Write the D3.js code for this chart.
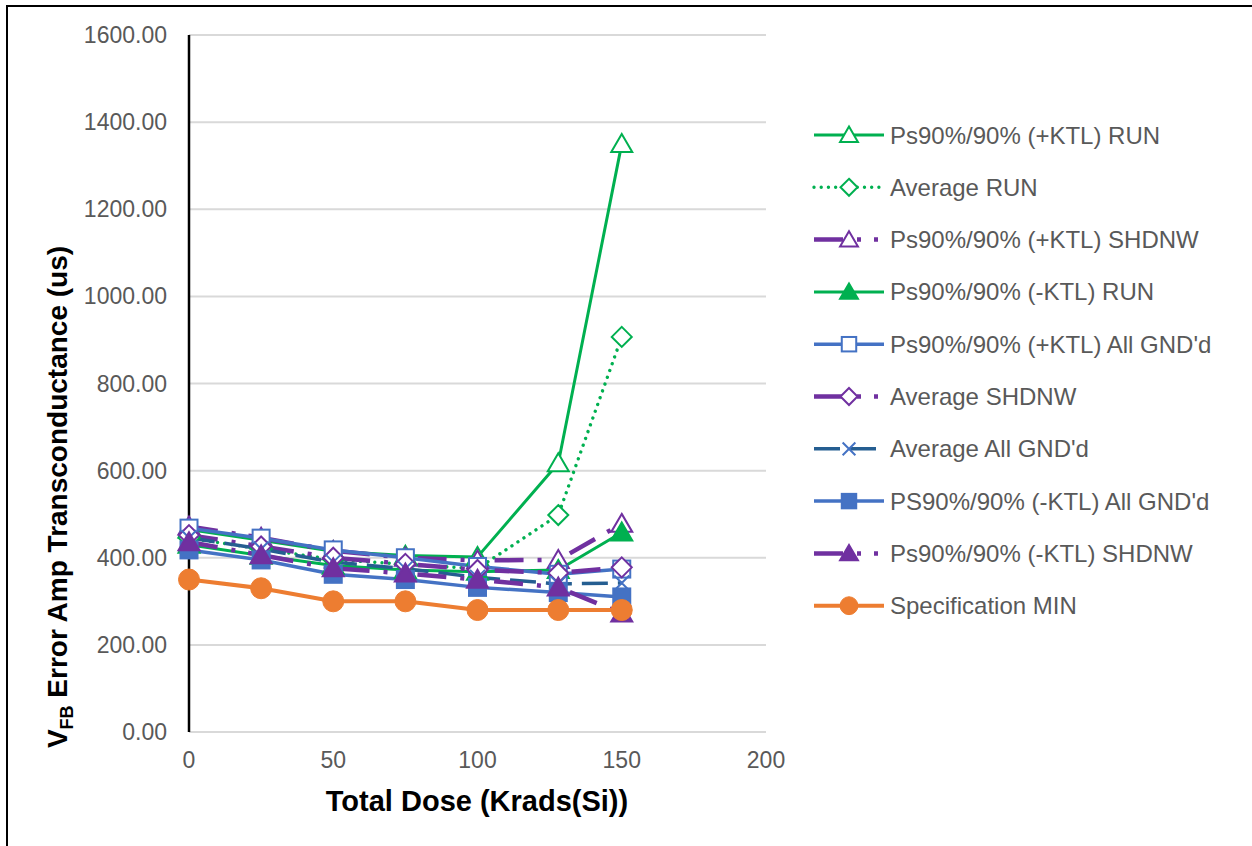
<!DOCTYPE html>
<html>
<head>
<meta charset="utf-8">
<script src="https://cdn.jsdelivr.net/npm/d3@7"></script>
<style>
  html, body { margin: 0; padding: 0; background: #fff; }
  svg { display: block; font-family: "Liberation Sans", Arial, sans-serif; }
</style>
</head>
<body>
<svg id="chart" width="1252" height="846"></svg>
<script>
// Dose levels (Krads(Si))
const doses = [0, 25, 50, 75, 100, 128, 150];

// Transconductance readings (us) per test condition
const psPlusRun     = [465, 440, 415, 405, 402, 617, 1350];
const avgRun        = [445, 420, 396, 385, 375, 498, 907];
const psPlusShdnw   = [472, 446, 416, 400, 394, 395, 478];
const psMinusRun    = [430, 405, 382, 372, 368, 372, 458];
const psPlusGnd     = [468, 445, 418, 400, 380, 362, 374];
const avgShdnw      = [452, 426, 400, 386, 372, 365, 378];
const avgGnd        = [446, 420, 390, 375, 355, 340, 342];
const psMinusGnd    = [418, 395, 362, 350, 332, 320, 310];
const psMinusShdnw  = [436, 406, 376, 364, 350, 332, 272];
const specMin       = [350, 330, 300, 300, 280, 280, 280];

const seriesNames = [
  "Ps90%/90% (+KTL) RUN",
  "Average RUN",
  "Ps90%/90% (+KTL) SHDNW",
  "Ps90%/90% (-KTL) RUN",
  "Ps90%/90% (+KTL) All GND'd",
  "Average SHDNW",
  "Average All GND'd",
  "PS90%/90% (-KTL) All GND'd",
  "Ps90%/90% (-KTL) SHDNW",
  "Specification MIN"
];
const seriesValues = [psPlusRun, avgRun, psPlusShdnw, psMinusRun, psPlusGnd,
                      avgShdnw, avgGnd, psMinusGnd, psMinusShdnw, specMin];

const yTicks = [0, 200, 400, 600, 800, 1000, 1200, 1400, 1600];
const xTicks = [0, 50, 100, 150, 200];

// Visual style per series
const GREEN = "#00B050", PURPLE = "#7030A0", BLUE = "#4472C4",
      NAVY = "#255E91", ORANGE = "#ED7D31";
const DASH_DOT_DOT = "29,14,4,13,4,13";
const styles = [
  { color: GREEN,  width: 3,   dash: null, cap: "butt", marker: "triangle", fill: false },
  { color: GREEN,  width: 3.4, dash: "0.01,7.2", cap: "round", marker: "diamond", fill: false },
  { color: PURPLE, width: 4.5, dash: DASH_DOT_DOT, cap: "butt", marker: "triangle", fill: false },
  { color: GREEN,  width: 3,   dash: null, cap: "butt", marker: "triangle", fill: true },
  { color: BLUE,   width: 3.5, dash: null, cap: "butt", marker: "square", fill: false },
  { color: PURPLE, width: 4.5, dash: DASH_DOT_DOT, cap: "butt", marker: "diamond", fill: false },
  { color: NAVY,   width: 3.5, dash: "26,10", cap: "butt", marker: "cross", fill: false, markerColor: BLUE },
  { color: BLUE,   width: 3.5, dash: null, cap: "butt", marker: "square", fill: true },
  { color: PURPLE, width: 4.5, dash: DASH_DOT_DOT, cap: "butt", marker: "triangle", fill: true },
  { color: ORANGE, width: 4,   dash: null, cap: "butt", marker: "circle", fill: true }
];

const svg = d3.select("#chart");

// Outer frame
svg.append("rect")
  .attr("x", 7).attr("y", 6).attr("width", 1300).attr("height", 900)
  .attr("fill", "#fff").attr("stroke", "#000").attr("stroke-width", 2);

const x = d3.scaleLinear().domain([0, 200]).range([189, 766]);
const y = d3.scaleLinear().domain([0, 1600]).range([732, 35]);

// Horizontal gridlines
svg.append("g").selectAll("line").data(yTicks).join("line")
  .attr("x1", x(0)).attr("x2", x(200))
  .attr("y1", d => y(d)).attr("y2", d => y(d))
  .attr("stroke", "#D9D9D9").attr("stroke-width", 2);

// Vertical axis line
svg.append("line")
  .attr("x1", x(0)).attr("x2", x(0)).attr("y1", y(1600)).attr("y2", y(0))
  .attr("stroke", "#000").attr("stroke-width", 2.5);

// Y tick labels
svg.append("g").selectAll("text").data(yTicks).join("text")
  .attr("x", 167).attr("y", d => y(d))
  .attr("text-anchor", "end").attr("dominant-baseline", "central")
  .attr("font-size", 23).attr("fill", "#595959")
  .text(d => d3.format(".2f")(d));

// X tick labels
svg.append("g").selectAll("text").data(xTicks).join("text")
  .attr("x", d => x(d)).attr("y", 760)
  .attr("text-anchor", "middle").attr("dominant-baseline", "central")
  .attr("font-size", 23).attr("fill", "#595959")
  .text(d => d);

// Axis titles
svg.append("text")
  .attr("x", 477).attr("y", 811)
  .attr("text-anchor", "middle")
  .attr("font-size", 29).attr("font-weight", "bold").attr("fill", "#000")
  .text("Total Dose (Krads(Si))");

const yTitle = svg.append("text")
  .attr("transform", "translate(67,497) rotate(-90)")
  .attr("text-anchor", "middle")
  .attr("font-size", 28).attr("font-weight", "bold").attr("fill", "#000");
yTitle.append("tspan").text("V");
yTitle.append("tspan").attr("font-size", 18).attr("dy", 6).text("FB");
yTitle.append("tspan").attr("dy", -6).text(" Error Amp Transconductance (us)");

// Marker shapes
function drawMarker(g, st, cx, cy, scale) {
  const s = scale || 1;
  const col = st.markerColor || st.color;
  const fill = st.fill ? col : "#fff";
  if (st.marker === "triangle") {
    const w = 10.5 * s, h = 18 * s;
    g.append("path")
      .attr("d", `M${cx},${cy - h * 0.55}L${cx + w},${cy + h * 0.45}L${cx - w},${cy + h * 0.45}Z`)
      .attr("fill", fill).attr("stroke", col).attr("stroke-width", 2);
  } else if (st.marker === "diamond") {
    const r = 10 * s;
    g.append("path")
      .attr("d", `M${cx},${cy - r}L${cx + r},${cy}L${cx},${cy + r}L${cx - r},${cy}Z`)
      .attr("fill", fill).attr("stroke", col).attr("stroke-width", 2);
  } else if (st.marker === "square") {
    const r = 8.5 * s;
    g.append("rect")
      .attr("x", cx - r).attr("y", cy - r).attr("width", 2 * r).attr("height", 2 * r)
      .attr("fill", fill).attr("stroke", col).attr("stroke-width", 2);
  } else if (st.marker === "cross") {
    const r = 7.5 * s;
    g.append("path")
      .attr("d", `M${cx - r},${cy - r}L${cx + r},${cy + r}M${cx - r},${cy + r}L${cx + r},${cy - r}`)
      .attr("fill", "none").attr("stroke", col).attr("stroke-width", 2);
  } else if (st.marker === "circle") {
    g.append("circle")
      .attr("cx", cx).attr("cy", cy).attr("r", 10.5 * s)
      .attr("fill", fill).attr("stroke", col).attr("stroke-width", 1);
  }
}

const lineGen = d3.line().x((d, i) => x(doses[i])).y(d => y(d));

// Series lines
const linesG = svg.append("g");
seriesValues.forEach((vals, k) => {
  const st = styles[k];
  linesG.append("path")
    .attr("d", lineGen(vals))
    .attr("fill", "none")
    .attr("stroke", st.color)
    .attr("stroke-width", st.width)
    .attr("stroke-linecap", st.cap)
    .attr("stroke-linejoin", "round")
    .attr("stroke-dasharray", st.dash);
});

// Series markers
const markersG = svg.append("g");
seriesValues.forEach((vals, k) => {
  const g = markersG.append("g");
  vals.forEach((v, i) => drawMarker(g, styles[k], x(doses[i]), y(v)));
});

// Legend
const legend = svg.append("g");
seriesNames.forEach((name, k) => {
  const st = styles[k];
  const cy = 135 + k * 52.3;
  const g = legend.append("g");
  g.append("line")
    .attr("x1", 814).attr("x2", 884).attr("y1", cy).attr("y2", cy)
    .attr("stroke", st.color).attr("stroke-width", st.width)
    .attr("stroke-linecap", st.cap)
    .attr("stroke-dasharray", st.dash);
  drawMarker(g, st, 849, cy, 0.85);
  g.append("text")
    .attr("x", 890).attr("y", cy)
    .attr("dominant-baseline", "central")
    .attr("font-size", 24).attr("fill", "#595959")
    .text(name);
});
</script>
</body>
</html>
